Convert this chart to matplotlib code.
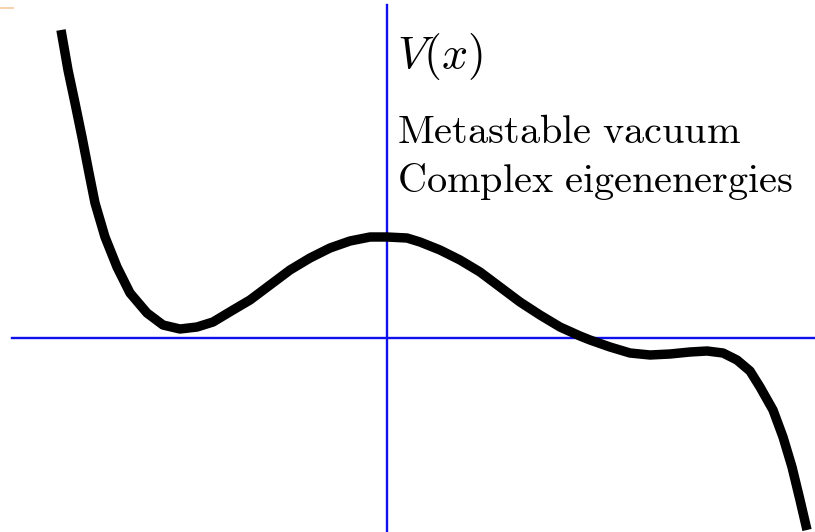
import matplotlib.pyplot as plt
import numpy as np

plt.rcParams['mathtext.fontset'] = 'cm'

# potential curve (x, V)
x = np.array([-3.26, -3.19, -3.12, -3.05, -2.98, -2.92, -2.82, -2.70, -2.57, -2.40,
              -2.24, -2.07, -1.90, -1.74, -1.54, -1.37, -1.17, -0.97, -0.77, -0.57,
              -0.37, -0.17, 0.00, 0.20, 0.33, 0.53, 0.73, 0.93, 1.13, 1.33,
              1.53, 1.73, 1.93, 2.03, 2.23, 2.43, 2.63, 2.83, 3.03, 3.20,
              3.36, 3.50, 3.63, 3.73, 3.86, 3.96, 4.05, 4.13, 4.20])
V = np.array([3.08, 2.68, 2.35, 2.01, 1.65, 1.35, 1.01, 0.71, 0.45, 0.25,
              0.13, 0.09, 0.11, 0.16, 0.28, 0.38, 0.53, 0.68, 0.80, 0.90,
              0.97, 1.01, 1.01, 1.00, 0.96, 0.88, 0.78, 0.66, 0.51, 0.36,
              0.23, 0.11, 0.02, -0.02, -0.09, -0.15, -0.17, -0.16, -0.14, -0.13,
              -0.15, -0.22, -0.33, -0.49, -0.72, -0.99, -1.29, -1.62, -1.92])

fig = plt.figure(figsize=(8.15, 5.32), dpi=100)
ax = fig.add_axes([0, 0, 1, 1])
ax.set_xlim(-3.87, 4.28)
ax.set_ylim(-1.94, 3.38)
ax.axis('off')

# axes
ax.plot([-3.75, 4.28], [0, 0], color='#1010ee', lw=1.7, zorder=1)
ax.plot([0, 0], [-1.94, 3.33], color='#1010ee', lw=1.7, zorder=1)

ax.plot(x, V, color='black', lw=6.8, solid_joinstyle='round',
        solid_capstyle='butt', zorder=2)

# small stray mark at top-left
ax.plot([-3.87, -3.74], [3.30, 3.30], color='#f5c9a0', lw=1.2)

ax.text(0.10, 2.70, r'$V(x)$', fontsize=33, ha='left', va='baseline')
ax.text(0.10, 1.95, r'$\mathrm{Metastable\ vacuum}$', fontsize=29,
        ha='left', va='baseline')
ax.text(0.10, 1.46, r'$\mathrm{Complex\ eigenenergies}$', fontsize=29,
        ha='left', va='baseline')

fig.savefig('out.png', dpi=100)
